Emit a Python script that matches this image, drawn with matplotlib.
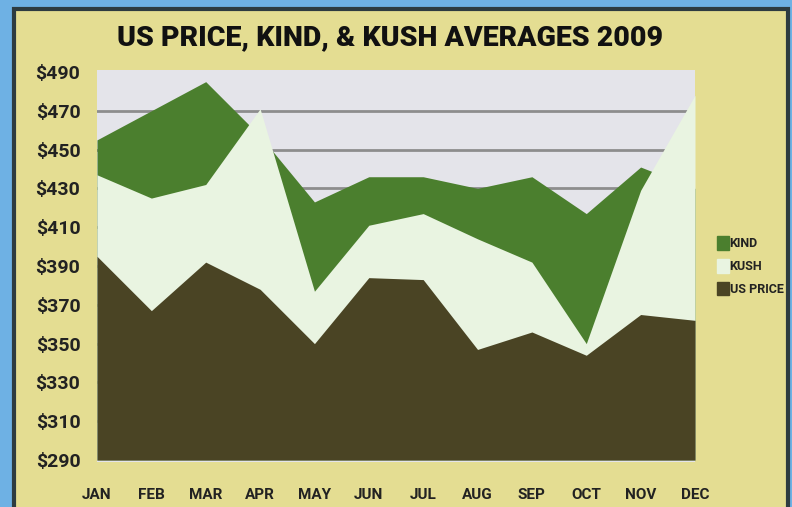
import numpy as np
import matplotlib.pyplot as plt
from matplotlib.patches import Rectangle, Patch

months = ['JAN', 'FEB', 'MAR', 'APR', 'MAY', 'JUN',
          'JUL', 'AUG', 'SEP', 'OCT', 'NOV', 'DEC']
kind = [455, 470, 485, 457, 423, 436, 436, 430, 436, 417, 441, 430]
kush = [437, 425, 432, 471, 377, 411, 417, 404, 392, 350, 429, 478]
us_price = [395, 367, 392, 378, 350, 384, 383, 347, 356, 344, 365, 362]
yticks = [290, 310, 330, 350, 370, 390, 410, 430, 450, 470, 490]

c_kind = '#4b7f2e'
c_kush = '#e9f4e1'
c_us = '#4a4424'
narrow = ['Roboto', 'DejaVu Sans']

fig = plt.figure(figsize=(7.92, 5.07), dpi=100)
fig.patch.set_facecolor('#6eb1e4')
fig.patches.append(Rectangle((14 / 792, -0.05), 774 / 792, 1.05 - 9 / 507,
                             transform=fig.transFigure, facecolor='#e4dd92',
                             edgecolor='#2d3b40', linewidth=3, zorder=-5))

ax = fig.add_axes([97 / 792, 45 / 507, 598 / 792, 392 / 507])
ax.set_zorder(5)
ax.set_facecolor('#e4e4ea')
x = np.arange(len(months))

# lignes de grille derrière les aires
for y in yticks[1:-1]:
    ax.axhline(y, color='#8d8d8d', linewidth=2, zorder=1)

ax.fill_between(x, 290, kind, color=c_kind, linewidth=0, zorder=2, label='KIND')
ax.fill_between(x, 290, kush, color=c_kush, linewidth=0, zorder=3, label='KUSH')
ax.fill_between(x, 290, us_price, color=c_us, linewidth=0, zorder=4, label='US PRICE')

ax.set_xlim(0, len(months) - 1)
ax.set_ylim(289, 491)
ax.set_xticks(x)
ax.set_xticklabels(months, family=narrow, fontweight='bold', fontsize=11, color='#222222')
ax.set_yticks(yticks)
ax.set_yticklabels(['$%d' % v for v in yticks], family=narrow, fontweight='bold',
                   fontsize=14, color='#222222')
ax.tick_params(length=0)
ax.tick_params(axis='x', pad=19)
ax.tick_params(axis='y', pad=12)
for s in ax.spines.values():
    s.set_visible(False)

fig.text(390 / 792, 1 - 38 / 507, 'US PRICE, KIND, & KUSH AVERAGES 2009',
         ha='center', va='center', fontsize=20.5, fontweight='heavy',
         family=['Roboto', 'DejaVu Sans'], color='#111111')

handles = [Patch(color=c_kind), Patch(color=c_kush), Patch(color=c_us)]
leg = fig.legend(handles, ['KIND', 'KUSH', 'US PRICE'], loc='center left',
                 bbox_to_anchor=(706 / 792, 1 - 266 / 507), frameon=False,
                 handlelength=0.9, handleheight=1.3, handletextpad=0.1,
                 labelspacing=0.7, prop={'family': narrow, 'weight': 'bold', 'size': 9})
for t in leg.get_texts():
    t.set_color('#222222')

plt.savefig('out.png', dpi=100, facecolor=fig.get_facecolor())
